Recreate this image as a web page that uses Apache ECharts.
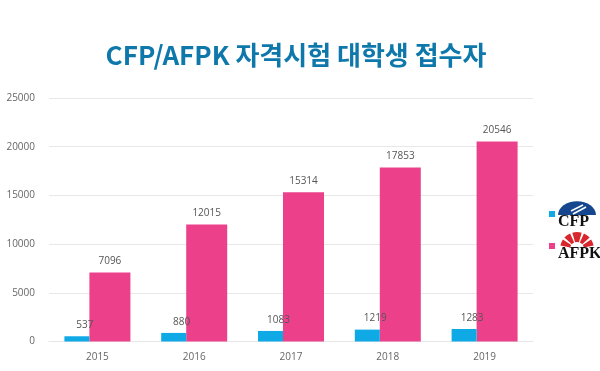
<!DOCTYPE html>
<html><head><meta charset="utf-8">
<style>html,body{margin:0;padding:0;background:#fff}#c{width:600px;height:371px}</style>
<script src="https://cdn.jsdelivr.net/npm/echarts@6/dist/echarts.min.js"></script></head>
<body><div id="c"></div>
<script>
const years = ['2015','2016','2017','2018','2019'];
const cfp = [537,880,1083,1219,1283];
const afpk = [7096,12015,15314,17853,20546];
const chart = echarts.init(document.getElementById('c'),null,{renderer:'canvas'});
const fontSans = '"Noto Sans CJK KR","Open Sans",sans-serif';
const red = '#d8262c';
const wedge = (cx,cy,r0,r,a0,a1)=>({type:'sector',shape:{cx,cy,r0,r,startAngle:a0*Math.PI/180,endAngle:a1*Math.PI/180,clockwise:true},style:{fill:red}});
const stripe = (x1,y1,x2,y2)=>({type:'line',shape:{x1,y1,x2,y2},style:{stroke:'#fff',lineWidth:1.5}});
chart.setOption({
  animation:false,
  backgroundColor:'#fff',
  title:{text:'CFP/AFPK 자격시험 대학생 접수자',left:291,top:37,textAlign:'center',
    textStyle:{color:'#0f78ab',fontSize:26,fontWeight:'bold',fontFamily:fontSans}},
  grid:{left:49,right:67,top:98,bottom:29.5},
  legend:{orient:'vertical',left:549,top:211,padding:0,itemWidth:6,itemHeight:22,itemGap:10,
    icon:'path://M0 0H6V6H0Z M0 22H0Z',
    textStyle:{fontFamily:'"Liberation Serif",serif',fontWeight:'bold',fontSize:16,color:'#111',padding:[0,0,0,-2]},
    data:['CFP','AFPK']},
  xAxis:{type:'category',data:years,
    axisLine:{lineStyle:{color:'#e6e6e6'}},axisTick:{show:false},
    axisLabel:{color:'#666',fontSize:10,margin:11,fontFamily:'"Open Sans",sans-serif'}},
  yAxis:{type:'value',min:0,max:25000,interval:5000,
    axisLine:{show:false},axisTick:{show:false},
    splitLine:{lineStyle:{color:'#e8e8e8'}},
    axisLabel:{color:'#666',fontSize:10,margin:14,formatter:v=>String(v),fontFamily:'"Open Sans",sans-serif'}},
  series:[
    {name:'CFP',type:'bar',data:cfp,barWidth:25,barGap:0,itemStyle:{color:'#0fa9e6'},z:2,
     label:{show:true,position:'top',offset:[8,-1],color:'#555',fontSize:10,fontFamily:'"Open Sans",sans-serif'}},
    {name:'AFPK',type:'bar',data:afpk,barWidth:41,barGap:0,itemStyle:{color:'#ec408b'},z:1,
     label:{show:true,position:'top',offset:[0,-1],color:'#555',fontSize:10,fontFamily:'"Open Sans",sans-serif'}}
  ],
  graphic:[
    {type:'sector',shape:{cx:577,cy:215,r0:0,r:19,startAngle:Math.PI,endAngle:2*Math.PI},
     style:{fill:'#16478e'},scaleY:0.72,originX:577,originY:215},
    stripe(571,211,583,205),stripe(573,214,586,207),
    wedge(577,249,7,17,192,214),
    wedge(577,249,7,17,222,246),
    wedge(577,249,7,17,254,286),
    wedge(577,249,7,17,294,318),
    wedge(577,249,7,17,326,348)
  ]
});
</script></body></html>
